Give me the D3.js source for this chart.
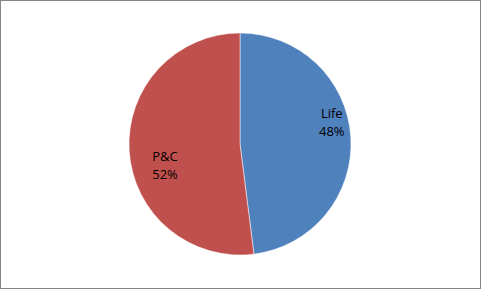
<!DOCTYPE html>
<html><head><meta charset="utf-8">
<script src="https://cdn.jsdelivr.net/npm/d3@7"></script>
<style>body{margin:0;background:#fff}svg{display:block}</style>
</head><body>
<script>
const categories = ["Life", "P&C"];
const values = [48, 52];
const labels = ["48%", "52%"];
const colors = ["#4F81BD", "#C0504D"];

const W = 481, H = 289;
const svg = d3.select("body").append("svg").attr("width", W).attr("height", H);
svg.append("rect").attr("x", 0.5).attr("y", 0.5).attr("width", W - 1).attr("height", H - 1)
  .attr("fill", "#fff").attr("stroke", "#868686").attr("stroke-width", 1);

const cx = 240, cy = 144, r = 111;
const g = svg.append("g").attr("transform", `translate(${cx},${cy})`);
const pie = d3.pie().sort(null).value(d => d)(values);
const arc = d3.arc().innerRadius(0).outerRadius(r);
g.selectAll("path").data(pie).enter().append("path")
  .attr("d", arc).attr("fill", (d, i) => colors[i])
  .attr("stroke", "#fff").attr("stroke-width", 0.5);

// label placement: polar position from slice (Excel "inside end"-like)
const labelPos = [{ang: 79 * Math.PI / 180, rad: 93.5}, {ang: 251.6 * Math.PI / 180, rad: 79}];
pie.forEach((d, i) => {
  const p = labelPos[i];
  const x = p.rad * Math.sin(p.ang), y = -p.rad * Math.cos(p.ang);
  const t = g.append("text").attr("text-anchor", "middle")
    .attr("font-family", "Open Sans, sans-serif").attr("font-size", 13).attr("fill", "#000")
    .attr("transform", `translate(${x},${y})`);
  t.append("tspan").attr("x", 0).attr("y", -8).text(categories[i]);
  t.append("tspan").attr("x", 0).attr("y", 10).text(labels[i]);
});
</script>
</body></html>
